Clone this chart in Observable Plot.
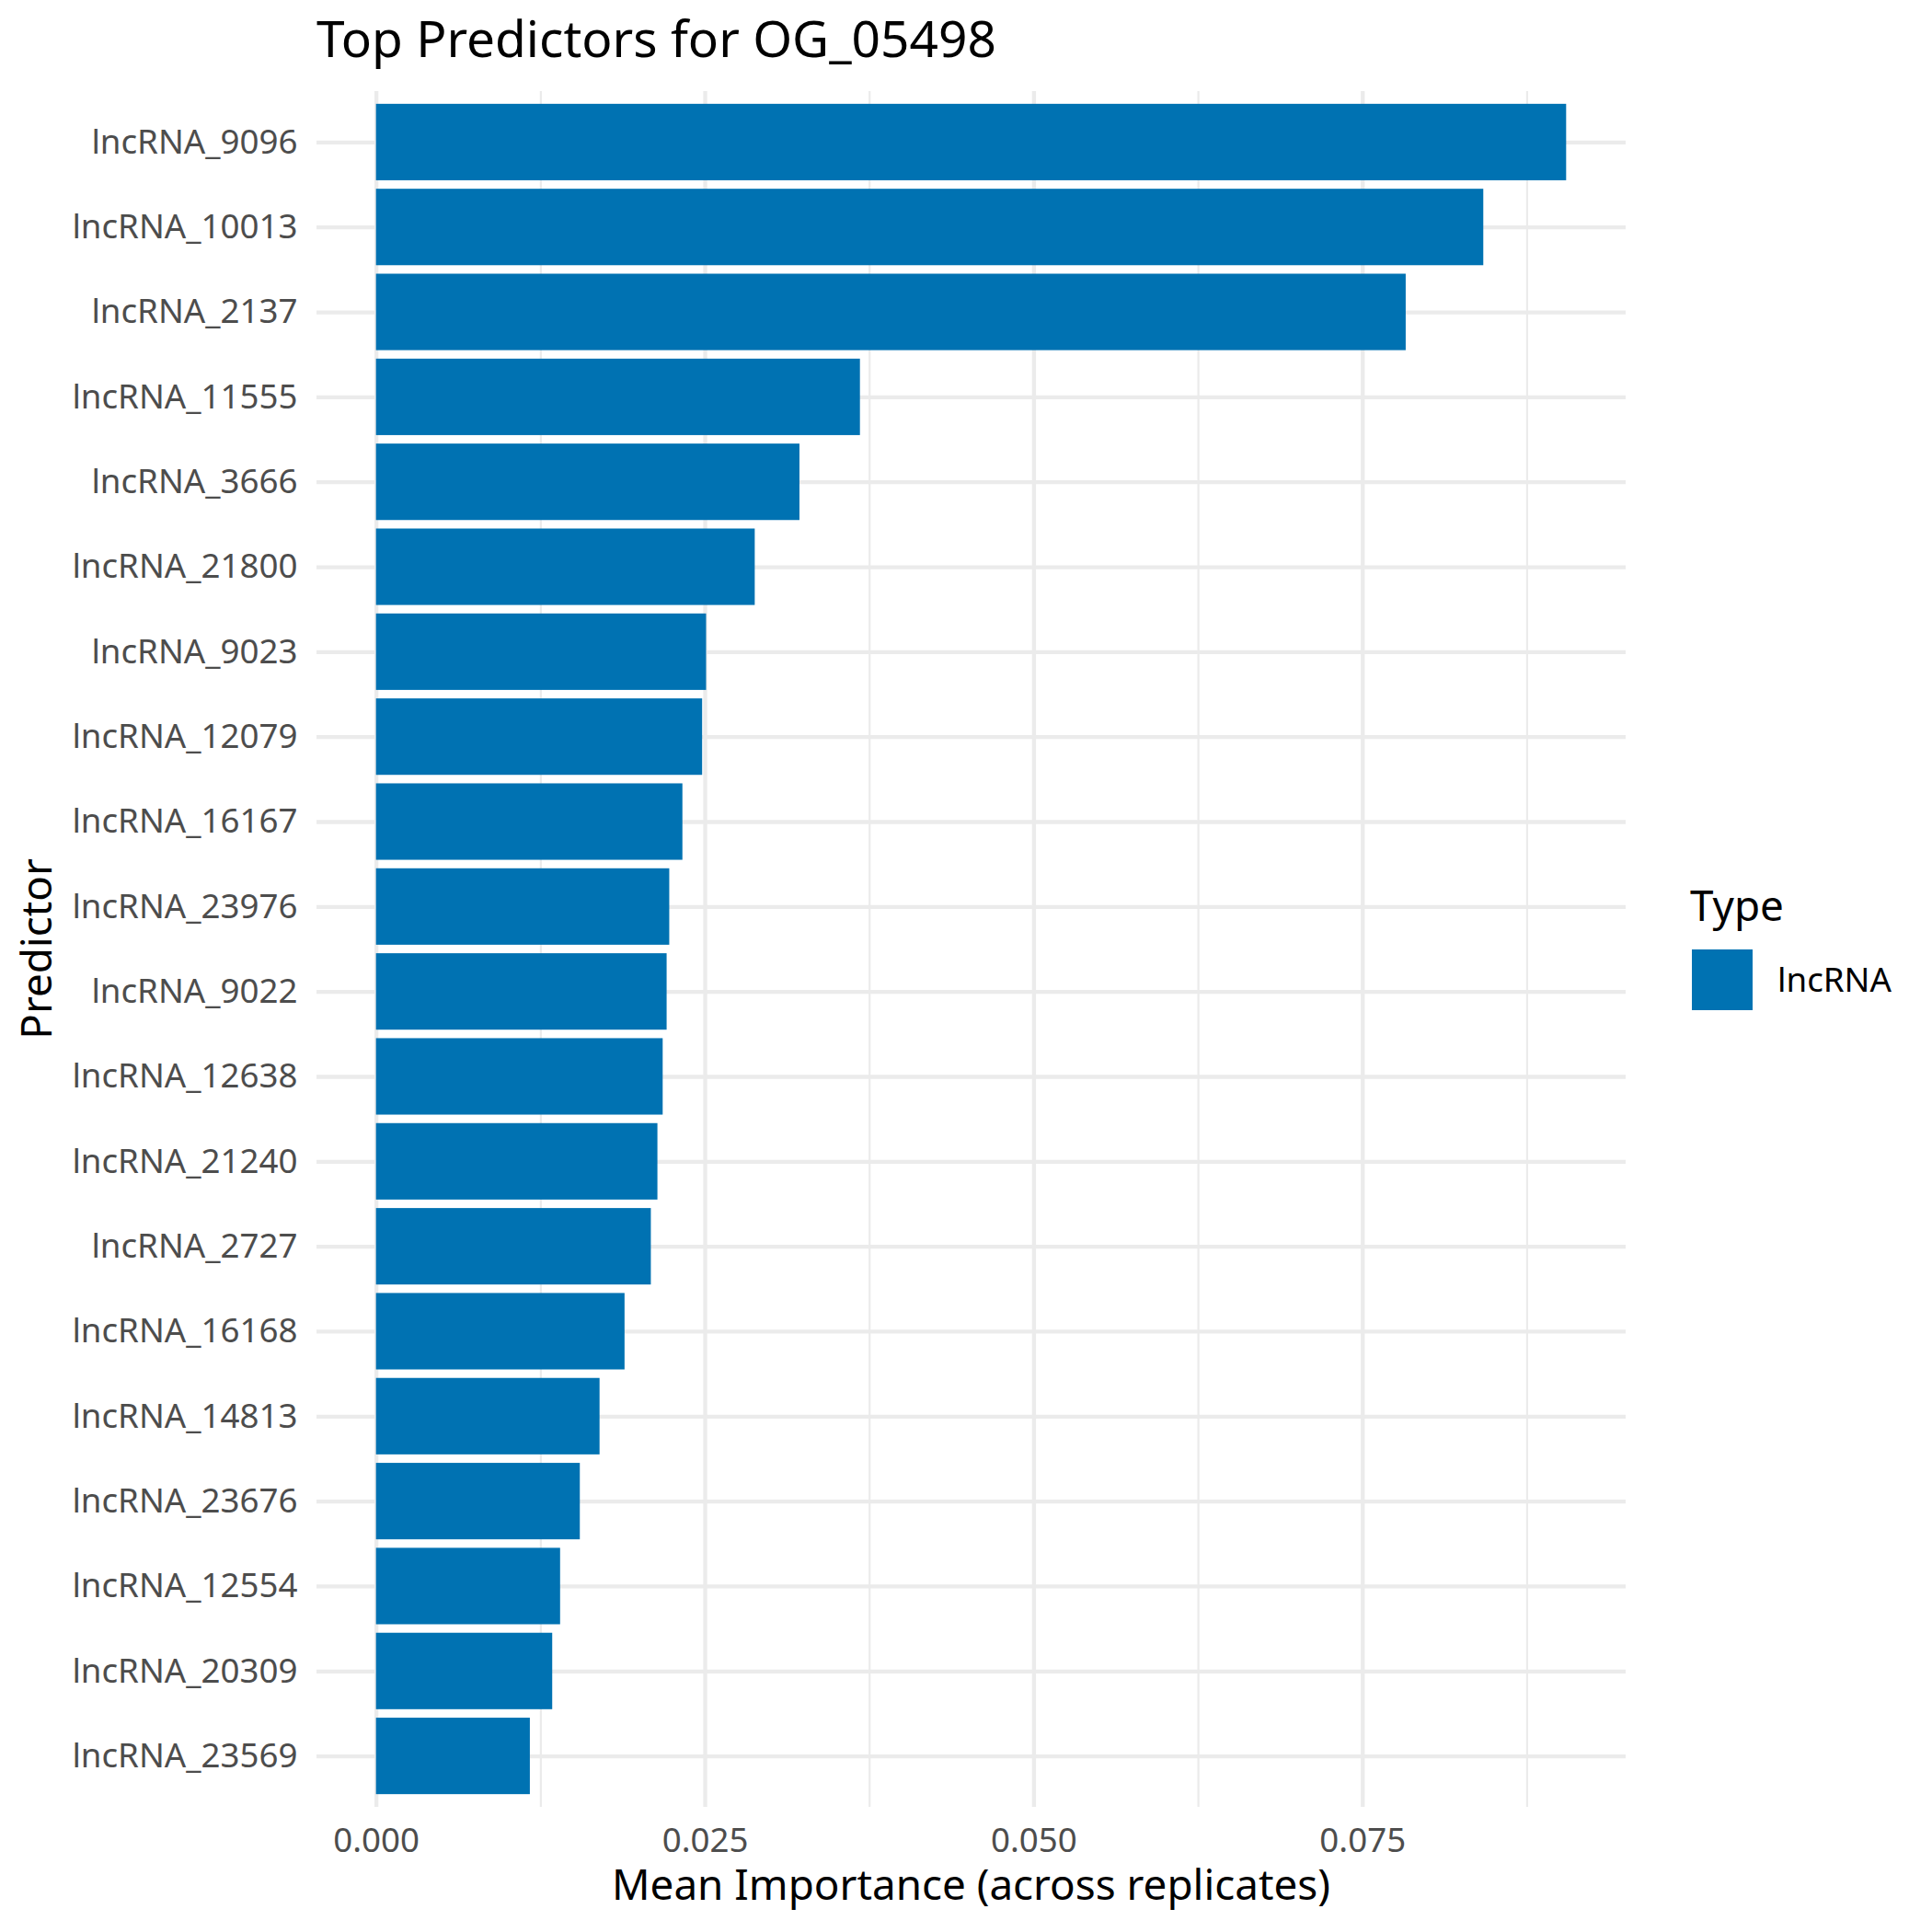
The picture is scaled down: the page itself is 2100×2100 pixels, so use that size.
<!DOCTYPE html>
<html><head><meta charset="utf-8">
<script src="https://cdn.jsdelivr.net/npm/d3@7"></script>
<script src="https://cdn.jsdelivr.net/npm/@observablehq/plot@0.6"></script>
<style>body{margin:0;background:#fff}</style>
</head><body><div id="chart"></div>
<script>
const predictors = ["lncRNA_9096","lncRNA_10013","lncRNA_2137","lncRNA_11555","lncRNA_3666","lncRNA_21800","lncRNA_9023","lncRNA_12079","lncRNA_16167","lncRNA_23976","lncRNA_9022","lncRNA_12638","lncRNA_21240","lncRNA_2727","lncRNA_16168","lncRNA_14813","lncRNA_23676","lncRNA_12554","lncRNA_20309","lncRNA_23569"];
const importance = [0.0905,0.0842,0.0783,0.0368,0.0322,0.0288,0.0251,0.0248,0.0233,0.0223,0.0221,0.0218,0.0214,0.0209,0.0189,0.0170,0.0155,0.0140,0.0134,0.0117];
const types = predictors.map(() => "lncRNA");
const typeNames = ["lncRNA"];
const typeColors = ["#0072B2"];
const xTicks = [0, 0.025, 0.05, 0.075];
const xMinor = [0.0125, 0.0375, 0.0625, 0.0875];
const titleText = "Top Predictors for OG_05498";
const xLabel = "Mean Importance (across replicates)";
const yLabel = "Predictor";
const legendTitle = "Type";

const data = predictors.map((p, i) => ({predictor: p, importance: importance[i], type: types[i]}));
const W = 2100, H = 2100, mL = 344, mR = 333, mT = 99, mB = 136;
const xMax = d3.max(importance);
const font = "'Noto Sans', sans-serif";

const svg = Plot.plot({
  width: W, height: H, marginLeft: mL, marginRight: mR, marginTop: mT, marginBottom: mB,
  style: {fontFamily: font, background: "white"},
  x: {domain: [-0.05 * xMax, 1.05 * xMax], round: false},
  y: {domain: predictors, paddingInner: 0.1, paddingOuter: 0.15, round: false},
  color: {domain: typeNames, range: typeColors},
  marks: [
    Plot.ruleX(xMinor, {stroke: "#EBEBEB", strokeWidth: 2.2}),
    Plot.ruleX(xTicks, {stroke: "#EBEBEB", strokeWidth: 4.3}),
    Plot.gridY({stroke: "#EBEBEB", strokeOpacity: 1, strokeWidth: 4.3}),
    Plot.barX(data, {y: "predictor", x: "importance", fill: "type"}),
    Plot.axisY({tickSize: 0, tickPadding: 21, fontSize: 36.7, fill: "#4D4D4D", label: null}),
    Plot.axisX({ticks: xTicks, tickFormat: d3.format(".3f"), tickSize: 0, tickPadding: 22, fontSize: 36.7, fill: "#4D4D4D", label: null})
  ]
});

const s = d3.select(svg);
s.append("text").attr("x", 344).attr("y", 62).attr("text-anchor", "start").attr("font-size", 55).attr("fill", "#000")
  .attr("font-family", font).text(titleText);
s.append("text").attr("x", (mL + W - mR) / 2).attr("y", 2065).attr("text-anchor", "middle")
  .attr("font-size", 45.8).attr("fill", "#000").attr("font-family", font).text(xLabel);
s.append("text").attr("transform", `translate(56,${(mT + H - mB) / 2}) rotate(-90)`).attr("text-anchor", "middle")
  .attr("font-size", 45.8).attr("fill", "#000").attr("font-family", font).text(yLabel);
s.append("text").attr("x", 1837).attr("y", 1001).attr("text-anchor", "start").attr("font-size", 45.8).attr("fill", "#000")
  .attr("font-family", font).text(legendTitle);
typeNames.forEach((t, i) => {
  s.append("rect").attr("x", 1839).attr("y", 1032 + i * 70).attr("width", 66).attr("height", 66).attr("fill", typeColors[i]);
  s.append("text").attr("x", 1932).attr("y", 1065 + i * 70).attr("dy", "0.35em").attr("text-anchor", "start").attr("font-size", 36.7)
    .attr("fill", "#000").attr("font-family", font).text(t);
});
document.getElementById("chart").appendChild(svg);
</script>
</body></html>
